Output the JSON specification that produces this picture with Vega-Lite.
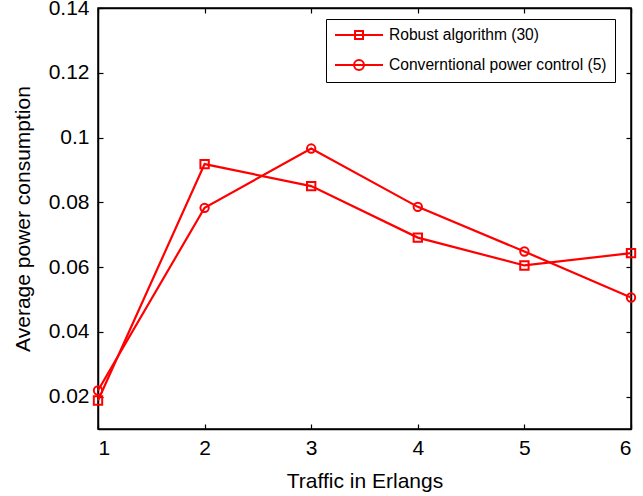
{
  "$schema": "https://vega.github.io/schema/vega-lite/v6.json",
  "width": 533,
  "height": 421,
  "autosize": "none",
  "padding": {"left": 98, "top": 8, "right": 12, "bottom": 67},
  "background": "white",
  "config": {
    "font": "Liberation Sans",
    "view": {"stroke": "black", "strokeWidth": 1.5},
    "axis": {"grid": false, "domainColor": "black", "domainWidth": 1.5, "tickColor": "black", "tickWidth": 1.2, "labelColor": "black", "titleColor": "black", "labelFontSize": 21, "titleFontSize": 21, "titleFontWeight": "normal", "labelFont": "Liberation Sans", "titleFont": "Liberation Sans"}
  },
  "data": {"values": [
    {"traffic": 1, "power": 0.0188, "series": "Robust algorithm (30)"},
    {"traffic": 2, "power": 0.0918, "series": "Robust algorithm (30)"},
    {"traffic": 3, "power": 0.0850, "series": "Robust algorithm (30)"},
    {"traffic": 4, "power": 0.0691, "series": "Robust algorithm (30)"},
    {"traffic": 5, "power": 0.0605, "series": "Robust algorithm (30)"},
    {"traffic": 6, "power": 0.0643, "series": "Robust algorithm (30)"},
    {"traffic": 1, "power": 0.0219, "series": "Converntional power control (5)"},
    {"traffic": 2, "power": 0.0783, "series": "Converntional power control (5)"},
    {"traffic": 3, "power": 0.0966, "series": "Converntional power control (5)"},
    {"traffic": 4, "power": 0.0786, "series": "Converntional power control (5)"},
    {"traffic": 5, "power": 0.0648, "series": "Converntional power control (5)"},
    {"traffic": 6, "power": 0.0506, "series": "Converntional power control (5)"}
  ]},
  "resolve": {"axis": {"x": "independent", "y": "independent"}, "scale": {"shape": "independent"}, "legend": {"shape": "independent"}},
  "layer": [
    {
      "mark": {"type": "line", "strokeWidth": 2.2, "color": "#ff0000"},
      "encoding": {
        "x": {"field": "traffic", "type": "quantitative", "scale": {"domain": [1, 6], "nice": false, "zero": false},
              "axis": {"orient": "bottom", "values": [1, 2, 3, 4, 5, 6], "format": "d", "tickSize": -5, "labelPadding": 13, "title": "Traffic in Erlangs", "titleBaseline": "alphabetic", "titleY": 58}},
        "y": {"field": "power", "type": "quantitative", "scale": {"domain": [0.01, 0.14], "nice": false, "zero": false},
              "axis": {"orient": "left", "values": [0.02, 0.04, 0.06, 0.08, 0.1, 0.12, 0.14], "format": ".2~f", "tickSize": -5, "labelPadding": 14, "title": "Average power consumption", "titleBaseline": "alphabetic", "titleX": -69}},
        "detail": {"field": "series", "type": "nominal"}
      }
    },
    {
      "mark": {"type": "point", "filled": false, "color": "#ff0000", "strokeWidth": 2, "size": 70, "opacity": 1},
      "encoding": {
        "x": {"field": "traffic", "type": "quantitative",
              "axis": {"orient": "top", "values": [1, 2, 3, 4, 5, 6], "labels": false, "tickSize": -5, "title": null}},
        "y": {"field": "power", "type": "quantitative",
              "axis": {"orient": "right", "values": [0.02, 0.04, 0.06, 0.08, 0.1, 0.12, 0.14], "labels": false, "tickSize": -5, "title": null}},
        "shape": {"field": "series", "type": "nominal",
                  "scale": {"domain": ["Robust algorithm (30)", "Converntional power control (5)"], "range": ["square", "circle"]},
                  "legend": null}
      }
    },
    {
      "mark": {"type": "point", "filled": false, "color": "#ff0000", "strokeWidth": 2, "size": 196, "opacity": 0},
      "encoding": {
        "x": {"field": "traffic", "type": "quantitative", "axis": null},
        "y": {"field": "power", "type": "quantitative", "axis": null},
        "shape": {"field": "series", "type": "nominal",
                  "scale": {"domain": ["Robust algorithm (30)", "Converntional power control (5)"],
                            "range": ["M-1,0H5.857M1.86,-0.57H3V0.57H1.86Z", "M-1,0H5.857M3.14,0A0.71,0.71 0 1,1 1.72,0A0.71,0.71 0 1,1 3.14,0"]},
                  "legend": {"title": null, "orient": "none", "legendX": 228, "legendY": 11, "padding": 8,
                             "strokeColor": "black", "fillColor": "white",
                             "symbolSize": 196, "symbolStrokeWidth": 2, "symbolOpacity": 1, "symbolStrokeColor": "#ff0000", "symbolFillColor": "transparent",
                             "labelOffset": 39, "rowPadding": 12,
                             "labelFontSize": 15.6, "labelColor": "black", "labelFont": "Liberation Sans", "labelLimit": 400}}
      }
    }
  ]
}
